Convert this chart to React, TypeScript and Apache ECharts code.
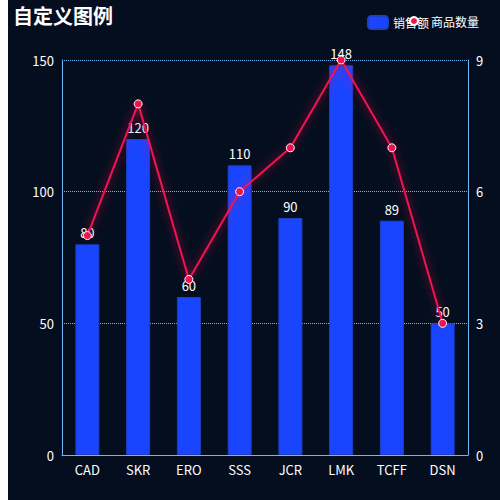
import { useEffect, useRef } from 'react';
import * as echarts from 'echarts';

const categories = ['CAD', 'SKR', 'ERO', 'SSS', 'JCR', 'LMK', 'TCFF', 'DSN'];
const salesValues = [80, 120, 60, 110, 90, 148, 89, 50];
const countValues = [5, 8, 4, 6, 7, 9, 7, 3];
const leftTicks = { min: 0, max: 150, interval: 50 };
const rightTicks = { min: 0, max: 9, interval: 3 };

export default function App() {
  const chartRef = useRef<HTMLDivElement>(null);

  useEffect(() => {
    if (!chartRef.current) return;
    const chart = echarts.init(chartRef.current, null, { renderer: 'svg' });

    const axisColor = '#6cb8f5';
    const lineColor = '#f0134f';

    chart.setOption({
      animation: false,
      backgroundColor: '#040e1e',
      textStyle: { fontFamily: 'Noto Sans CJK SC' },
      title: {
        text: '自定义图例',
        left: 0,
        top: 0,
        textStyle: { color: '#fff', fontSize: 20, fontWeight: 'bold' },
      },
      legend: [
        {
          left: 354,
          top: 10,
          itemWidth: 20,
          itemHeight: 13,
          textStyle: { color: '#fff', fontSize: 12 },
          data: ['销售额'],
        },
        {
          right: 16,
          top: 10,
          itemWidth: 24,
          itemHeight: 8,
          textStyle: { color: '#fff', fontSize: 12 },
          data: [{ name: '商品数量', icon: 'circle' }],
        },
      ],
      grid: { left: 54, right: 32, top: 60, bottom: 45 },
      xAxis: {
        type: 'category',
        data: categories,
        axisLine: { lineStyle: { color: axisColor } },
        axisTick: { show: false },
        axisLabel: { color: '#fff', fontSize: 13 },
      },
      yAxis: [
        {
          type: 'value',
          ...leftTicks,
          axisLine: { show: true, lineStyle: { color: axisColor } },
          axisTick: { show: false },
          axisLabel: { color: '#fff', fontSize: 13 },
          splitLine: { lineStyle: { color: axisColor, type: 'dotted' } },
        },
        {
          type: 'value',
          ...rightTicks,
          axisLine: { show: true, lineStyle: { color: axisColor } },
          axisTick: { show: false },
          axisLabel: { color: '#fff', fontSize: 13 },
          splitLine: { show: false },
        },
      ],
      series: [
        {
          name: '销售额',
          type: 'bar',
          data: salesValues,
          barWidth: 24,
          itemStyle: { color: '#1a45ff', borderColor: '#1f3fc4', borderWidth: 1 },
          label: { show: true, position: 'top', color: '#fff', fontSize: 13 },
        },
        {
          name: '商品数量',
          type: 'line',
          yAxisIndex: 1,
          data: countValues,
          symbol: 'circle',
          symbolSize: 8,
          itemStyle: { color: lineColor, borderColor: '#fff', borderWidth: 1 },
          lineStyle: {
            color: lineColor,
            width: 2,
            shadowColor: 'rgba(255, 20, 80, 0.8)',
            shadowBlur: 8,
          },
        },
      ],
    });

    return () => {
      chart.dispose();
    };
  }, []);

  return (
    <div style={{ position: 'absolute', top: 0, left: 8, width: 492, height: 500, background: '#040e1e' }}>
      <div ref={chartRef} style={{ width: 492, height: 500 }} />
    </div>
  );
}
